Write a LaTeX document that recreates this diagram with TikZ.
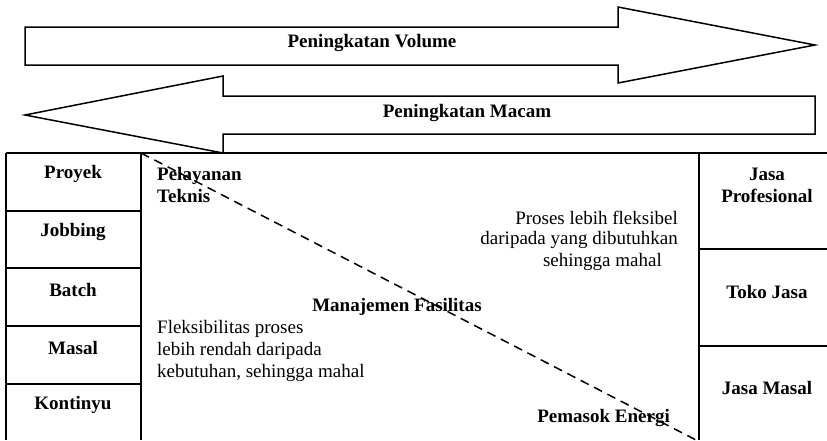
\documentclass[tikz,border=0pt]{standalone}
\usepackage{fontspec}
\setmainfont{Liberation Serif}
\begin{document}
\begin{tikzpicture}[x=1pt,y=-1pt,
  line/.style={line width=1.5pt,black},
  lbl/.style={font=\fontsize{19}{22}\selectfont\bfseries,inner sep=0pt,align=center},
  txt/.style={font=\fontsize{19}{22}\selectfont,inner sep=0pt},
  dline/.style={line width=1.5pt,dash pattern=on 9pt off 6pt}]
\useasboundingbox (0,0) rectangle (827,440);
% top arrow (right)
\draw[line,line join=miter] (25,27) -- (618,27) -- (618,7) -- (815,45) -- (618,83) -- (618,65) -- (25,65) -- cycle;
% bottom arrow (left)
\draw[line,line join=miter] (815,96) -- (223,96) -- (223,76) -- (25,115) -- (223,153) -- (223,134) -- (815,134) -- cycle;
\node[lbl] (vol) at (372,43) {Peningkatan Volume};
\node[lbl] (mac) at (467,113) {Peningkatan Macam};
% table
\draw[line] (6,153) -- (827,153);
\draw[line] (6,153) -- (6,440);
\draw[line] (141,153) -- (141,440);
\draw[line] (699,153) -- (699,440);
\foreach \y in {211,268,326,384} \draw[line] (6,\y) -- (141,\y);
\foreach \y in {249,346} \draw[line] (699,\y) -- (827,\y);
% left labels
\node[lbl] (p1) at (73,174) {Proyek};
\node[lbl] (p2) at (73,232) {Jobbing};
\node[lbl] (p3) at (73,290) {Batch};
\node[lbl] (p4) at (73,348) {Masal};
\node[lbl] (p5) at (73,405) {Kontinyu};
% right labels
\node[lbl] (j1) at (767,185) {Jasa\\Profesional};
\node[lbl] (j2) at (767,292) {Toko Jasa};
\node[lbl] (j3) at (767,388) {Jasa Masal};
% middle
\node[lbl,align=left,anchor=west] (pt) at (157,185) {Pelayanan\\Teknis};
\node[lbl] (mf) at (397,307) {Manajemen Fasilitas};
\node[lbl,anchor=east] (pe) at (670,418) {Pemasok Energi};
\node[txt,align=left,anchor=west] (fl) at (157,351) {Fleksibilitas proses\\lebih rendah daripada\\kebutuhan, sehingga mahal};
\node[txt,anchor=east] (r1) at (678,218) {Proses lebih fleksibel};
\node[txt,anchor=east] (r2) at (678,240) {daripada yang dibutuhkan};
\node[txt,anchor=east] (r3) at (662,262) {sehingga mahal};
% dashed diagonal
\coordinate (d1) at (141,153);
\coordinate (d2) at (696,440);
\draw[dline] (d1) -- (d2);
\end{tikzpicture}
\end{document}
